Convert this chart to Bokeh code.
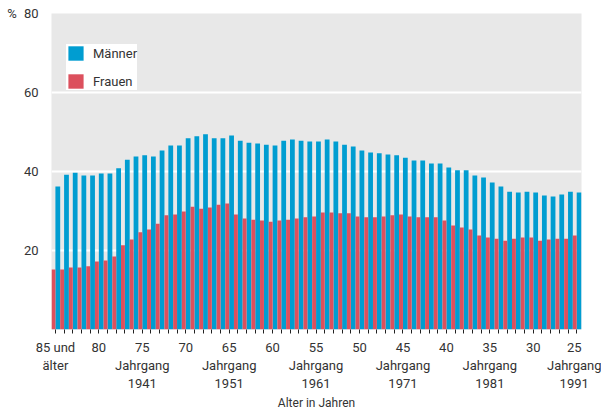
from bokeh.plotting import figure
from bokeh.models import FixedTicker, Legend, LegendItem, Range1d
from bokeh.embed import file_html
from bokeh.resources import INLINE

ages = list(range(85, 24, -1))
maenner = [36.2, 39.2, 39.7, 39.0, 39.0, 39.5, 39.5, 40.8, 43.0, 43.8,
           44.1, 43.8, 45.3, 46.6, 46.6, 48.4, 48.9, 49.4, 48.4, 48.4,
           49.1, 47.8, 47.3, 47.1, 46.8, 46.6, 47.8, 48.1, 47.8, 47.6,
           47.6, 48.1, 47.6, 46.8, 46.3, 45.3, 44.8, 44.6, 44.3, 44.1,
           43.5, 42.8, 42.8, 42.0, 42.0, 41.0, 40.3, 40.3, 39.0, 38.5,
           37.2, 36.2, 34.9, 34.7, 34.9, 34.7, 33.9, 33.7, 34.2, 34.9,
           34.7]
frauen = [15.2, 15.2, 15.7, 15.7, 16.0, 17.2, 17.5, 18.5, 21.3, 22.8,
          24.6, 25.3, 26.8, 28.9, 29.1, 29.9, 31.1, 30.6, 30.9, 31.6,
          31.9, 29.1, 28.1, 27.8, 27.6, 27.3, 27.6, 27.8, 28.1, 28.4,
          28.6, 29.6, 29.6, 29.4, 29.4, 28.6, 28.4, 28.4, 28.6, 28.9,
          29.1, 28.6, 28.4, 28.4, 28.4, 27.6, 26.3, 25.8, 25.3, 23.8,
          23.3, 23.0, 22.5, 23.0, 23.3, 23.3, 22.5, 22.8, 23.0, 23.0,
          23.8]
tick_labels = {85: "85 und\nälter", 80: "80", 75: "75\nJahrgang\n1941", 70: "70",
               65: "65\nJahrgang\n1951", 60: "60", 55: "55\nJahrgang\n1961",
               50: "50", 45: "45\nJahrgang\n1971", 40: "40",
               35: "35\nJahrgang\n1981", 30: "30", 25: "25\nJahrgang\n1991"}
y_ticks = [20, 40, 60, 80]

FONT = "Roboto"
TXT = "#333333"
BLUE = "#009dd1"
RED = "#dc505d"

pos = list(range(len(ages)))
wr, wb = 0.45, 0.55

p = figure(width=601, height=412, output_backend="svg", toolbar_location=None,
           x_range=Range1d(-wr, len(ages) - 1 + wb), y_range=Range1d(0, 80),
           min_border_left=51, min_border_right=20, min_border_top=13,
           min_border_bottom=83)
p.background_fill_color = "#e8e8e8"
p.outline_line_color = None

rb = p.vbar(x=[i + wb / 2 for i in pos], top=maenner, width=wb, bottom=0,
            fill_color=BLUE, line_color=None)
rr = p.vbar(x=[i - wr / 2 for i in pos], top=frauen, width=wr, bottom=0,
            fill_color=RED, line_color=None)

p.xgrid.visible = False
p.ygrid.grid_line_color = "white"
p.ygrid.grid_line_width = 2
p.ygrid.ticker = FixedTicker(ticks=y_ticks)

p.yaxis.ticker = FixedTicker(ticks=y_ticks)
p.yaxis.axis_line_color = None
p.yaxis.major_tick_line_color = None
p.yaxis.minor_tick_line_color = None
p.yaxis.major_label_text_font = FONT
p.yaxis.major_label_text_font_size = "13px"
p.yaxis.major_label_text_color = TXT
p.yaxis.major_label_standoff = 7
p.yaxis.axis_label = "%"
p.yaxis.axis_label_orientation = "horizontal"
p.yaxis.axis_label_align = "end"
p.yaxis.axis_label_standoff = 4
p.yaxis.axis_label_text_font = FONT
p.yaxis.axis_label_text_font_size = "13px"
p.yaxis.axis_label_text_font_style = "normal"
p.yaxis.axis_label_text_color = TXT

p.xaxis.ticker = FixedTicker(ticks=pos)
p.xaxis.major_label_overrides = {i: tick_labels.get(a, "") for i, a in zip(pos, ages)}
p.xaxis.axis_line_color = None
p.xaxis.major_tick_line_color = "#222222"
p.xaxis.major_tick_in = 0
p.xaxis.major_tick_out = 4
p.xaxis.minor_tick_line_color = None
p.xaxis.major_label_text_font = FONT
p.xaxis.major_label_text_font_size = "13px"
p.xaxis.major_label_text_color = TXT
p.xaxis.major_label_text_line_height = 1.2
p.xaxis.major_label_standoff = 6
p.xaxis.axis_label = "Alter in Jahren"
p.xaxis.axis_label_text_font = FONT
p.xaxis.axis_label_text_font_size = "12px"
p.xaxis.axis_label_text_font_style = "normal"
p.xaxis.axis_label_text_color = TXT
p.xaxis.axis_label_standoff = 2

legend = Legend(items=[LegendItem(label="Männer", renderers=[rb]),
                       LegendItem(label="Frauen", renderers=[rr])],
                location=(15, 239), glyph_width=19, glyph_height=18,
                label_height=18, spacing=10, padding=9, margin=0,
                label_standoff=8, border_line_color=None,
                background_fill_color="white", background_fill_alpha=1,
                label_text_font=FONT, label_text_font_size="13px",
                label_text_color=TXT)
p.add_layout(legend, "center")

open("out.html", "w").write(file_html(p, INLINE))
